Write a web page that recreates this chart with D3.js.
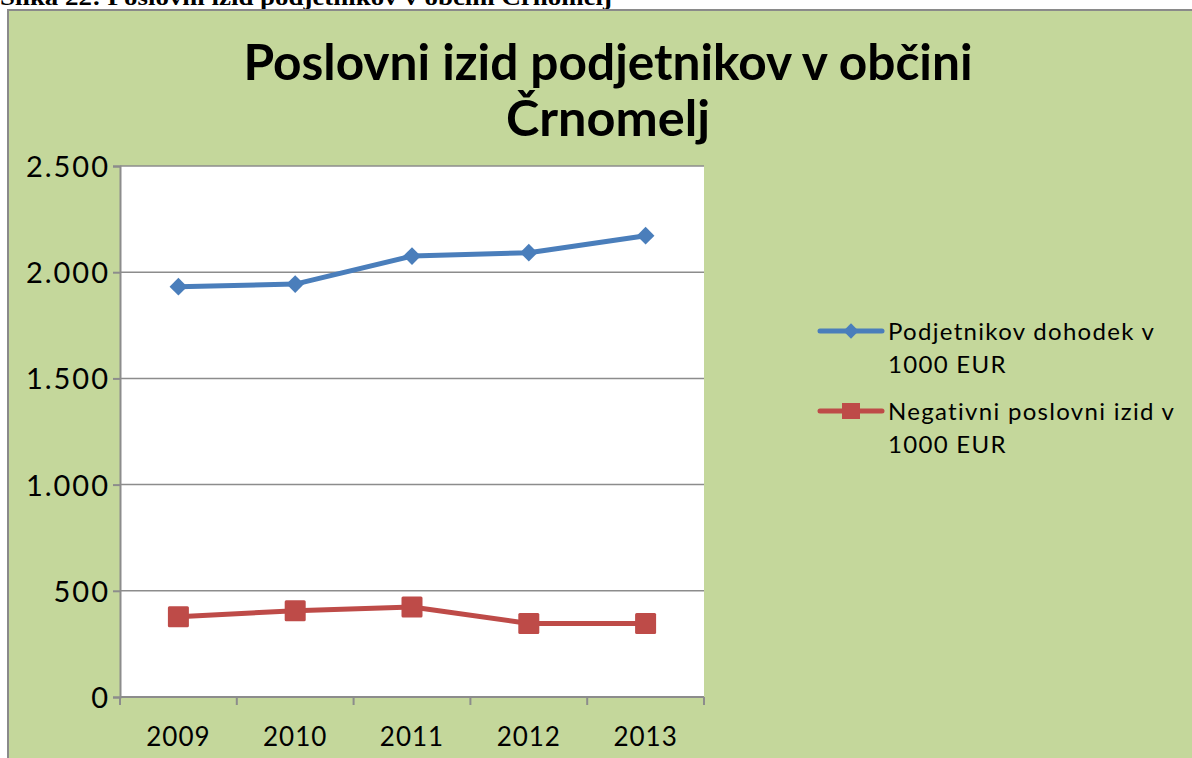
<!DOCTYPE html>
<meta charset="utf-8">
<style>
  body { margin: 0; background: #fff; }
  svg { display: block; }
  text { font-family: Lato, "Open Sans", sans-serif; }
</style>
<svg width="1192" height="758"></svg>
<script src="https://d3js.org/d3.v7.min.js"></script>
<script>

var years = ["2009", "2010", "2011", "2012", "2013"];
var dohodek = [1932, 1944, 2076, 2092, 2172];   // Podjetnikov dohodek v 1000 EUR
var negativni = [378, 406, 424, 346, 346];        // Negativni poslovni izid v 1000 EUR
var yTicks = [0, 500, 1000, 1500, 2000, 2500];
var seriesNames = [["Podjetnikov dohodek v", "1000 EUR"], ["Negativni poslovni izid v", "1000 EUR"]];

var svg = d3.select("svg"),
    plotLeft = 120, plotRight = 704, plotTop = 166, plotBottom = 697;

var locale = d3.formatLocale({decimal: ",", thousands: ".", grouping: [3], currency: ["", " €"]});
var fmt = locale.format(",");

// caption above the chart (cut by the page edge)
svg.append("text")
    .attr("x", 0)
    .attr("y", 5)
    .attr("textLength", 612)
    .attr("lengthAdjust", "spacingAndGlyphs")
    .style("font-family", "'Liberation Serif', serif")
    .style("font-weight", "bold")
    .style("font-size", "24px")
    .text("Slika 22: Poslovni izid podjetnikov v občini Črnomelj");

// chart frame
svg.append("rect")
    .attr("x", 8).attr("y", 10)
    .attr("width", 1200).attr("height", 800)
    .attr("fill", "#c4d79b")
    .attr("stroke", "#8a8a8a")
    .attr("stroke-width", 2);

// title
var title = svg.append("g")
    .attr("text-anchor", "middle")
    .style("font-weight", "bold")
    .style("font-size", "50px")
    .attr("fill", "#000");
title.append("text").attr("x", 608).attr("y", 80)
    .attr("textLength", 729).attr("lengthAdjust", "spacingAndGlyphs")
    .text("Poslovni izid podjetnikov v občini");
title.append("text").attr("x", 608).attr("y", 136)
    .attr("textLength", 204).attr("lengthAdjust", "spacingAndGlyphs")
    .text("Črnomelj");

var x = d3.scaleBand().domain(years).range([plotLeft, plotRight]);
var y = d3.scaleLinear().domain([0, 2500]).range([plotBottom, plotTop]);

// plot area
svg.append("rect")
    .attr("x", plotLeft).attr("y", plotTop)
    .attr("width", plotRight - plotLeft).attr("height", plotBottom - plotTop)
    .attr("fill", "#fff");

// gridlines
svg.append("g")
    .selectAll("line")
    .data(yTicks.slice(1))
    .enter().append("line")
      .attr("x1", plotLeft).attr("x2", plotRight)
      .attr("y1", y).attr("y2", y)
      .attr("stroke", "#8c8c8c")
      .attr("stroke-width", 1.5);

// y axis
var yAxis = svg.append("g")
    .attr("transform", "translate(" + plotLeft + ",0)")
    .call(d3.axisLeft(y).tickValues(yTicks).tickFormat(fmt).tickSize(7).tickPadding(3));
yAxis.select(".domain").attr("stroke", "#8c8c8c").attr("stroke-width", 2);
yAxis.selectAll(".tick line").attr("stroke", "#8c8c8c").attr("stroke-width", 2);
yAxis.selectAll(".tick text")
    .attr("fill", "#000")
    .attr("dy", "0.36em")
    .style("font-family", "Lato, sans-serif")
    .style("font-size", "29px")
    .style("letter-spacing", "2px");

// x axis, ticks between categories
var xAxis = svg.append("g")
    .attr("transform", "translate(0," + plotBottom + ")");
xAxis.append("line")
    .attr("x1", plotLeft).attr("x2", plotRight)
    .attr("stroke", "#8c8c8c").attr("stroke-width", 2);
xAxis.selectAll(".tk")
    .data(years.concat([null]))
    .enter().append("line")
      .attr("class", "tk")
      .attr("x1", function(d, i) { return plotLeft + i * x.bandwidth(); })
      .attr("x2", function(d, i) { return plotLeft + i * x.bandwidth(); })
      .attr("y1", 0).attr("y2", 8)
      .attr("stroke", "#8c8c8c").attr("stroke-width", 2);
xAxis.selectAll("text")
    .data(years)
    .enter().append("text")
      .attr("x", function(d) { return x(d) + x.bandwidth() / 2; })
      .attr("y", 49)
      .attr("text-anchor", "middle")
      .style("font-size", "26px")
      .style("letter-spacing", "1px")
      .text(function(d) { return d; });

var cx = function(d, i) { return x(years[i]) + x.bandwidth() / 2; };
var line = d3.line().x(cx).y(function(d) { return y(d); });

// blue series
svg.append("path")
    .datum(dohodek)
    .attr("d", line)
    .attr("fill", "none")
    .attr("stroke", "#4a7ebb")
    .attr("stroke-width", 5)
    .attr("stroke-linejoin", "round");
svg.append("g")
    .selectAll("path")
    .data(dohodek)
    .enter().append("path")
      .attr("d", d3.symbol().type(d3.symbolDiamond2).size(200))
      .attr("transform", function(d, i) { return "translate(" + cx(d, i) + "," + y(d) + ")"; })
      .attr("fill", "#4a7ebb");

// red series
svg.append("path")
    .datum(negativni)
    .attr("d", line)
    .attr("fill", "none")
    .attr("stroke", "#be4b48")
    .attr("stroke-width", 5)
    .attr("stroke-linejoin", "round");
svg.append("g")
    .selectAll("rect")
    .data(negativni)
    .enter().append("rect")
      .attr("x", function(d, i) { return cx(d, i) - 10.5; })
      .attr("y", function(d) { return y(d) - 10.5; })
      .attr("width", 21).attr("height", 21)
      .attr("rx", 1.5)
      .attr("fill", "#be4b48");

// legend
var legend = svg.append("g")
    .selectAll("g")
    .data(seriesNames)
    .enter().append("g")
      .attr("transform", function(d, i) { return "translate(820," + (331 + i * 80) + ")"; });

legend.append("line")
    .attr("x1", 0).attr("x2", 62)
    .attr("stroke", function(d, i) { return i ? "#be4b48" : "#4a7ebb"; })
    .attr("stroke-width", 5)
    .attr("stroke-linecap", "round");
legend.filter(function(d, i) { return i === 0; }).append("path")
    .attr("d", d3.symbol().type(d3.symbolDiamond2).size(150))
    .attr("transform", "translate(31,0)")
    .attr("fill", "#4a7ebb");
legend.filter(function(d, i) { return i === 1; }).append("rect")
    .attr("x", 22).attr("y", -8).attr("width", 18).attr("height", 16)
    .attr("fill", "#be4b48");

legend.append("text")
    .attr("x", 68)
    .attr("y", 9)
    .style("font-size", "24px")
    .style("letter-spacing", "1.3px")
    .selectAll("tspan")
    .data(function(d) { return d; })
    .enter().append("tspan")
      .attr("x", 68)
      .attr("dy", function(d, i) { return i ? 33 : 0; })
      .text(function(d) { return d; });

</script>
